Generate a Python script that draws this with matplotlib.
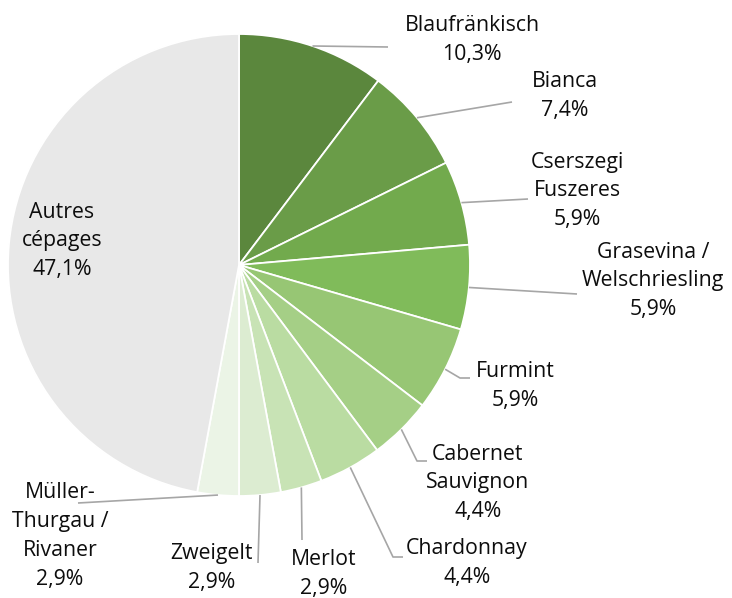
import numpy as np
import matplotlib
matplotlib.use("Agg")
import matplotlib.pyplot as plt

plt.rcParams['font.family'] = ['Open Sans', 'DejaVu Sans']

# data
labels = ['Blaufränkisch', 'Bianca', 'Cserszegi\nFuszeres', 'Grasevina /\nWelschriesling',
          'Furmint', 'Cabernet\nSauvignon', 'Chardonnay', 'Merlot', 'Zweigelt',
          'Müller-\nThurgau /\nRivaner', 'Autres\ncépages']
shares = [10.3, 7.4, 5.9, 5.9, 5.9, 4.4, 4.4, 2.9, 2.9, 2.9, 47.1]
colors = ['#5B873D', '#6A9C48', '#72AA4D', '#80BB5A', '#97C674', '#A5CF86',
          '#BADCA2', '#C8E3B5', '#DCECD1', '#EBF4E6', '#E8E8E8']

# layout in pixels: pie center and radius
W, H = 732, 598
CX, CY, R = 239, 265, 231

# label centers (px) and leader line bends (px) -- layout only
label_pos = [(472, 40), (565, 96), (577, 191), (653, 281), (515, 386), (478, 483),
             (467, 563), (324, 574), (212, 568), (60, 536), (62, 241)]
leader_pts = [
    [(388, 47)],
    [(512, 102)],
    [(528, 199)],
    [(577, 294)],
    [(460, 378), (470, 378)],
    [(417, 461), (427, 461)],
    [(393, 557), (403, 557)],
    [(302, 540)],
    [(258, 563)],
    [(78, 503)],
    None,
]


def to_data(px, py):
    return (px - CX) / R, (CY - py) / R


fig = plt.figure(figsize=(W / 100, H / 100), dpi=100)
ax = fig.add_axes([0, 0, 1, 1])
ax.pie(shares, colors=colors, startangle=90, counterclock=False, radius=1,
       wedgeprops=dict(edgecolor='white', linewidth=1.3))
ax.set_xlim(-CX / R, (W - CX) / R)
ax.set_ylim(-(H - CY) / R, CY / R)
ax.set_aspect('equal')
ax.axis('off')

cum = np.cumsum([0] + shares[:-1])
for lab, val, c0, pos, pts in zip(labels, shares, cum, label_pos, leader_pts):
    txt = f"{lab}\n{val:.1f}%".replace('.', ',')
    tx, ty = to_data(*pos)
    ax.text(tx, ty, txt, ha='center', va='center', fontsize=15.3,
            linespacing=1.48, color='#0d0d0d')
    if pts is None:
        continue
    ang = np.deg2rad(90 - (c0 + val / 2) * 3.6)
    xs = [np.cos(ang)]
    ys = [np.sin(ang)]
    for p in pts:
        x, y = to_data(*p)
        xs.append(x)
        ys.append(y)
    ax.plot(xs, ys, color='#A6A6A6', lw=1.2, solid_capstyle='butt')

fig.savefig('out.png', dpi=100, facecolor='white')
